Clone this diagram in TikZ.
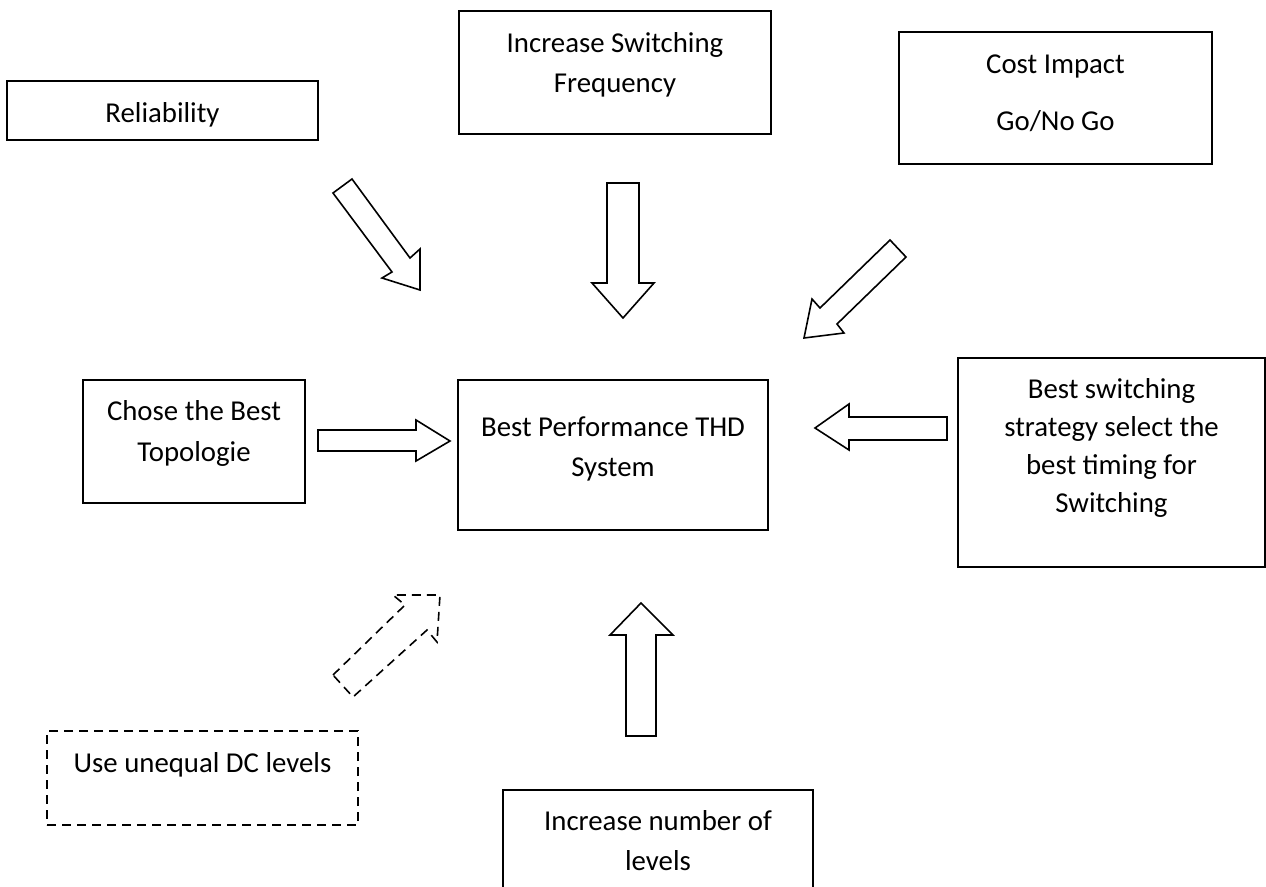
\documentclass[tikz,border=0pt]{standalone}
\usepackage{fontspec}
\setmainfont{Carlito}
\begin{document}
\begin{tikzpicture}[x=1pt,y=-1pt,
  box/.style={draw, line width=1.8pt, inner sep=0pt, outer sep=0pt},
  dbox/.style={box, line width=1.6pt, dash pattern=on 9pt off 6pt},
  blk/.style={draw, line width=1.6pt, line join=miter, fill=white},
  dblk/.style={blk, dash pattern=on 9pt off 6pt},
  txt/.style={anchor=base, inner sep=0pt, font=\fontsize{28.8pt}{40pt}\selectfont}]

\useasboundingbox (0,0) rectangle (1266,886);

% boxes
\node[box, minimum width=311pt, minimum height=59pt]  (rel)   at (162.5,110.5) {};
\node[box, minimum width=312pt, minimum height=123pt] (freq)  at (615,72.5) {};
\node[box, minimum width=313pt, minimum height=132pt] (cost)  at (1055.5,98) {};
\node[box, minimum width=222pt, minimum height=123pt] (topo)  at (194,441.5) {};
\node[box, minimum width=310pt, minimum height=150pt] (thd)   at (613,455) {};
\node[box, minimum width=307pt, minimum height=209pt] (strat) at (1111.5,462.5) {};
\node[box, minimum width=310pt, minimum height=105pt] (lvl)   at (658,842.5) {};
\node[dbox, minimum width=311pt, minimum height=94pt] (dc)    at (202.5,778) {};

% texts
\node[txt] (relT)   at (162.5,122) {Reliability};
\node[txt] (freqT1) at (615,52) {Increase Switching};
\node[txt] (freqT2) at (615,92) {Frequency};
\node[txt] (costT1) at (1055.5,73) {Cost Impact};
\node[txt] (costT2) at (1055.5,130) {Go/No Go};
\node[txt] (topoT1) at (194,420) {Chose the Best};
\node[txt] (topoT2) at (194,461) {Topologie};
\node[txt] (thdT1)  at (613,436) {Best Performance THD};
\node[txt] (thdT2)  at (613,476) {System};
\node[txt] (stT1)   at (1111.5,398) {Best switching};
\node[txt] (stT2)   at (1111.5,436) {strategy select the};
\node[txt] (stT3)   at (1111.5,474) {best timing for};
\node[txt] (stT4)   at (1111.5,512) {Switching};
\node[txt] (lvlT1)  at (658,830) {Increase number of};
\node[txt] (lvlT2)  at (658,870) {levels};
\node[txt] (dcT)    at (202.5,772) {Use unequal DC levels};

% block arrows pointing at the central box
\draw[blk] (333,193) -- (352,179) -- (410,258) -- (420,249) -- (420,290) -- (382,278) -- (392,272) -- cycle;
\draw[blk] (607,183) -- (639,183) -- (639,283) -- (654,283) -- (623,318) -- (592,283) -- (607,283) -- cycle;
\draw[blk] (890,240) -- (906,257) -- (837,324) -- (844,333) -- (804,338) -- (812,299) -- (820,308) -- cycle;
\draw[blk] (318,430) -- (416,430) -- (416,420) -- (450,441) -- (416,461) -- (416,451) -- (318,451) -- cycle;
\draw[blk] (947,417) -- (849,417) -- (849,404) -- (815,428) -- (849,450) -- (849,440) -- (947,440) -- cycle;
\draw[dblk] (333,675) -- (405,605) -- (393,595) -- (440,595) -- (437,642) -- (427,630) -- (353,697) -- cycle;
\draw[blk] (641,603) -- (673,635) -- (656,635) -- (656,736) -- (626,736) -- (626,635) -- (610,635) -- cycle;
\end{tikzpicture}
\end{document}
